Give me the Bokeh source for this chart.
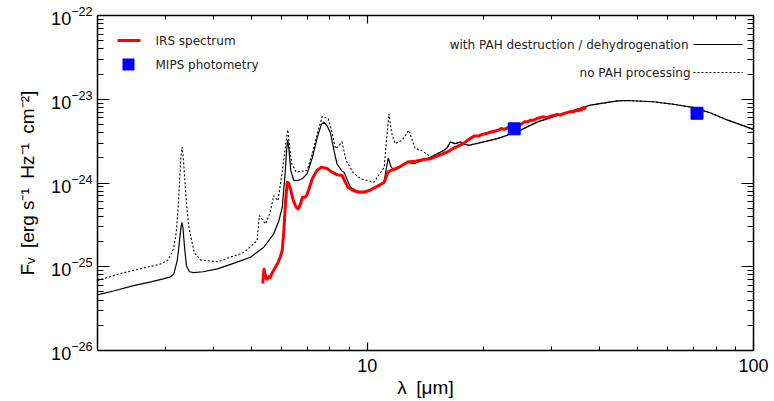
import numpy as np
from bokeh.plotting import figure
from bokeh.models import (FixedTicker, LogAxis, LogTickFormatter, Label, Arrow,
                          BoxAnnotation, Range1d)
from bokeh.embed import file_html
from bokeh.resources import INLINE

# ---------------------------------------------------------------- data
# Model SED with PAH destruction / dehydrogenation (wavelength in micron, log10 F_nu)
wl_pah = [2.00, 2.20, 2.48, 2.75, 2.96, 3.09, 3.15, 3.22, 3.26, 3.29, 3.31, 3.33, 3.36,
          3.40, 3.46, 3.55, 3.75, 4.09, 4.5, 4.98, 5.39, 5.72, 5.90, 6.02, 6.12, 6.18,
          6.22, 6.27, 6.33, 6.45, 6.60, 6.78, 6.98, 7.2, 7.42, 7.6, 7.71, 7.85, 8.02,
          8.2, 8.34, 8.6, 8.7, 9.04, 9.42, 9.78, 10.2, 10.82, 11.06, 11.2, 11.33, 11.5,
          11.7, 12.2, 12.7, 13.2, 14.6, 15.8, 16.1, 16.4, 16.9, 17.4, 17.9, 18.3, 19.5,
          21.7, 24.4, 27.6, 32.3, 37.8, 44.4, 47.0, 55.0, 62.0, 70.3, 78.0, 85.8, 100.0]
logf_pah = [-25.335, -25.29, -25.225, -25.18, -25.145, -25.12, -25.09, -24.92, -24.70,
            -24.53, -24.47, -24.54, -24.76, -24.99, -25.06, -25.07, -25.06, -25.025,
            -24.96, -24.886, -24.767, -24.607, -24.45, -24.289, -23.90, -23.60, -23.484,
            -23.62, -23.85, -23.97, -23.97, -23.95, -23.89, -23.70, -23.453, -23.30,
            -23.274, -23.31, -23.40, -23.62, -23.77, -23.86, -23.87, -24.05, -24.10,
            -24.10, -24.09, -24.03, -23.97, -23.82, -23.70, -23.80, -23.85, -23.81,
            -23.75, -23.77, -23.69, -23.61, -23.58, -23.51, -23.53, -23.51, -23.54,
            -23.55, -23.52, -23.47, -23.39, -23.27, -23.17, -23.07, -23.02, -23.015,
            -23.03, -23.06, -23.10, -23.17, -23.25, -23.36]

# Model SED without PAH processing
wl_nopah = [2.00, 2.30, 2.60, 2.90, 3.05, 3.15, 3.20, 3.24, 3.27, 3.29, 3.31, 3.33, 3.36,
            3.40, 3.45, 3.56, 3.70, 4.09, 4.79, 5.18, 5.25, 5.35, 5.45, 5.60, 5.72, 5.87,
            6.04, 6.15, 6.22, 6.30, 6.37, 6.54, 6.98, 7.2, 7.42, 7.64, 7.92, 8.1, 8.27,
            8.45, 8.6, 8.8, 9.2, 9.62, 10.4, 11.06, 11.2, 11.37, 11.55, 11.8, 12.3, 12.8,
            13.3, 13.8, 14.6, 15.8, 16.1, 16.4, 16.9, 17.4, 17.9, 18.3, 19.5, 21.7, 24.4,
            27.6, 32.3, 37.8, 44.4, 47.0, 55.0, 62.0, 70.3, 78.0, 85.8, 100.0]
logf_nopah = [-25.164, -25.08, -25.02, -24.97, -24.92, -24.78, -24.58, -24.25, -23.90,
              -23.68, -23.57, -23.66, -23.90, -24.25, -24.53, -24.83, -24.92, -24.94,
              -24.83, -24.69, -24.39, -24.44, -24.49, -24.35, -24.15, -24.21, -23.81,
              -23.52, -23.365, -23.60, -23.77, -23.87, -23.85, -23.65, -23.41, -23.206,
              -23.23, -23.40, -23.59, -23.55, -23.51, -23.73, -23.88, -23.95, -23.99,
              -23.81, -23.50, -23.174, -23.40, -23.53, -23.49, -23.37, -23.59, -23.61,
              -23.69, -23.61, -23.58, -23.51, -23.53, -23.51, -23.54, -23.55, -23.52,
              -23.47, -23.39, -23.27, -23.17, -23.07, -23.02, -23.015, -23.03, -23.06,
              -23.10, -23.17, -23.25, -23.36]

# IRS spectrum
wl_irs = [5.36, 5.38, 5.40, 5.43, 5.46, 5.50, 5.55, 5.60, 5.66, 5.72, 5.80, 5.87, 5.95,
          6.02, 6.08, 6.14, 6.20, 6.25, 6.32, 6.42, 6.54, 6.62, 6.70, 6.79, 6.90, 6.96,
          7.05, 7.20, 7.40, 7.60, 7.88, 8.10, 8.34, 8.60, 8.75, 8.90, 9.20, 9.50, 9.78,
          10.1, 10.4, 10.8, 11.06, 11.3, 11.5, 11.8, 12.2, 12.7, 13.3, 14.0, 14.6, 15.3,
          16.1, 16.8, 17.7, 18.3, 18.9, 19.4, 19.8, 20.3, 20.9, 21.4, 21.8, 22.2, 22.6,
          23.1, 23.5, 24.0, 24.5, 25.0, 25.5, 26.0, 26.5, 27.0, 27.5, 28.0, 28.5, 29.2,
          30.0, 30.6, 31.0, 31.6, 32.3, 32.9, 33.5, 34.2, 34.8, 35.2, 35.5, 35.9, 36.2,
          36.5, 36.8]
logf_irs = [-25.20, -25.10, -25.03, -25.08, -25.13, -25.15, -25.12, -25.13, -25.08,
            -25.04, -24.99, -24.95, -24.88, -24.80, -24.55, -24.22, -23.99, -24.00,
            -24.07, -24.20, -24.29, -24.31, -24.26, -24.17, -24.17, -24.15, -24.08,
            -23.95, -23.85, -23.81, -23.83, -23.87, -23.90, -23.91, -23.98, -24.05,
            -24.09, -24.11, -24.11, -24.09, -24.06, -24.02, -23.99, -23.87, -23.85,
            -23.83, -23.80, -23.75, -23.74, -23.72, -23.71, -23.67, -23.63, -23.58,
            -23.53, -23.48, -23.44, -23.44, -23.42, -23.41, -23.39, -23.38, -23.37,
            -23.35, -23.36, -23.34, -23.34, -23.33, -23.31, -23.30, -23.27, -23.27,
            -23.25, -23.25, -23.23, -23.22, -23.21, -23.22, -23.20, -23.19, -23.18,
            -23.19, -23.17, -23.16, -23.15, -23.15, -23.13, -23.14, -23.12, -23.13,
            -23.10, -23.11, -23.09]

# MIPS photometry
wl_mips = [24.0, 71.4]
logf_mips = [-23.353, -23.167]

# axis ticks and their labels
x_major = [10.0, 100.0]
x_minor = [2, 3, 4, 5, 6, 7, 8, 9, 20, 30, 40, 50, 60, 70, 80, 90]
x_labels = ["10", "100"]
y_major = [1e-26, 1e-25, 1e-24, 1e-23, 1e-22]
y_minor = [m * 10.0 ** e for e in range(-26, -22) for m in range(2, 10)]

# ---------------------------------------------------------------- figure
p = figure(width=774, height=401, x_axis_type="log", y_axis_type="log",
           x_range=Range1d(2, 100), y_range=Range1d(1e-26, 1e-22),
           output_backend="svg", toolbar_location=None,
           min_border_left=97, min_border_right=21, min_border_top=15,
           min_border_bottom=51)
p.grid.visible = False
p.outline_line_color = None
p.background_fill_color = "white"
p.border_fill_color = "white"

AXIS_FONT = "Liberation Sans"
GAP = "\u2002"  # en space between unit terms


def style_axis(ax, tick_long, tick_short, labelled):
    ax.axis_line_color = "black"
    ax.axis_line_width = 1.5
    ax.major_tick_line_color = "black"
    ax.minor_tick_line_color = "black"
    ax.major_tick_line_width = 1.2
    ax.minor_tick_line_width = 1.0
    ax.major_tick_in = tick_long
    ax.major_tick_out = 0
    ax.minor_tick_in = tick_short
    ax.minor_tick_out = 0
    if labelled:
        ax.major_label_text_font = AXIS_FONT
        ax.major_label_text_font_size = "18px"
        ax.major_label_text_color = "black"
        ax.axis_label_text_font = AXIS_FONT
        ax.axis_label_text_font_size = "19px"
        ax.axis_label_text_font_style = "normal"
        ax.axis_label_text_color = "black"
    else:
        ax.major_label_text_font_size = "0px"
        ax.major_label_text_color = None
        ax.axis_label = None


xb = p.xaxis[0]
xb.ticker = FixedTicker(ticks=x_major, minor_ticks=x_minor)
xb.major_label_overrides = dict(zip(x_major, x_labels))
xb.axis_label = "\u03bb" + GAP + "[\u03bcm]"
style_axis(xb, 8, 4, True)
xb.major_label_standoff = 8
xb.axis_label_standoff = 2

yl = p.yaxis[0]
yl.ticker = FixedTicker(ticks=y_major, minor_ticks=y_minor)
yl.formatter = LogTickFormatter()
yl.axis_label = ("F\u1d65" + GAP + "[erg s\u207b\u00b9" + GAP + "Hz\u207b\u00b9"
                 + GAP + "cm\u207b\u00b2]")
style_axis(yl, 12, 6, True)
yl.major_label_standoff = 5
yl.axis_label_standoff = 10

xt = LogAxis(ticker=FixedTicker(ticks=x_major, minor_ticks=x_minor))
style_axis(xt, 8, 4, False)
p.add_layout(xt, "above")

yr = LogAxis(ticker=FixedTicker(ticks=y_major, minor_ticks=y_minor))
style_axis(yr, 12, 6, False)
p.add_layout(yr, "right")

# ---------------------------------------------------------------- curves
p.line(wl_nopah, 10.0 ** np.array(logf_nopah), line_color="black",
       line_width=1.1, line_dash="2 2")
p.line(wl_pah, 10.0 ** np.array(logf_pah), line_color="black", line_width=1.2)
p.line(wl_irs, 10.0 ** np.array(logf_irs), line_color="#ff0000", line_width=3,
       line_join="round")
p.scatter(wl_mips, 10.0 ** np.array(logf_mips), marker="square", size=12,
          fill_color="#0000ff", line_color="#0000ff")

# ---------------------------------------------------------------- legends
LEG_FONT = "DejaVu Sans"
LEG_SIZE = "12px"

p.add_layout(Arrow(x_start=20, y_start=310, x_end=43, y_end=310,
                   start_units="screen", end_units="screen", end=None,
                   line_color="#ff0000", line_width=3))
p.add_layout(Label(x=58, y=310, x_units="screen", y_units="screen",
                   text="IRS spectrum", text_font=LEG_FONT, text_font_size=LEG_SIZE,
                   text_baseline="middle", text_color="#222222"))
p.add_layout(BoxAnnotation(left=25, right=37, bottom=280, top=292,
                           left_units="screen", right_units="screen",
                           bottom_units="screen", top_units="screen",
                           fill_color="#0000ff", fill_alpha=1.0, line_color=None))
p.add_layout(Label(x=58, y=286, x_units="screen", y_units="screen",
                   text="MIPS photometry", text_font=LEG_FONT, text_font_size=LEG_SIZE,
                   text_baseline="middle", text_color="#222222"))

p.add_layout(Label(x=591, y=306, x_units="screen", y_units="screen",
                   text="with PAH destruction / dehydrogenation", text_font=LEG_FONT,
                   text_font_size=LEG_SIZE, text_align="right",
                   text_baseline="middle", text_color="#222222"))
p.add_layout(Arrow(x_start=596, y_start=306, x_end=645, y_end=306,
                   start_units="screen", end_units="screen", end=None,
                   line_color="black", line_width=1.2))
p.add_layout(Label(x=593, y=278, x_units="screen", y_units="screen",
                   text="no PAH processing", text_font=LEG_FONT,
                   text_font_size=LEG_SIZE, text_align="right",
                   text_baseline="middle", text_color="#222222"))
p.add_layout(Arrow(x_start=596, y_start=278, x_end=645, y_end=278,
                   start_units="screen", end_units="screen", end=None,
                   line_color="black", line_width=1.1, line_dash="2 2"))

open("out.html", "w").write(file_html(p, INLINE))
